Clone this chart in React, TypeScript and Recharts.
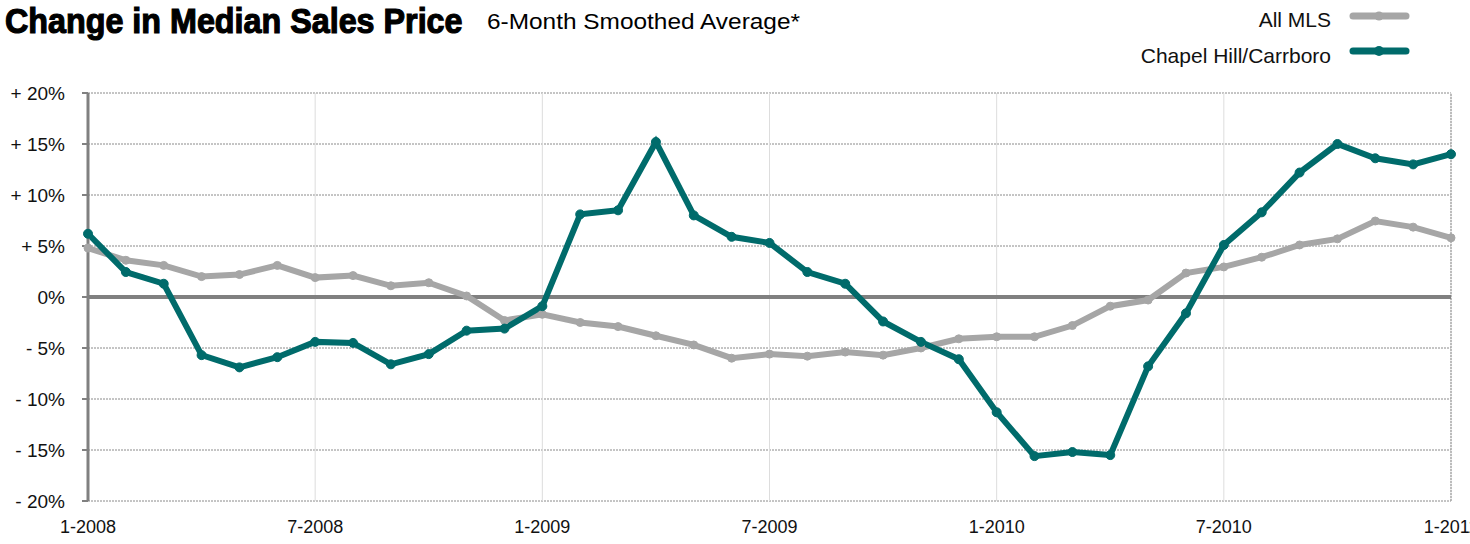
import React from 'react';
import {
  LineChart,
  Line,
  XAxis,
  YAxis,
  CartesianGrid,
  ReferenceLine,
} from 'recharts';

const months = [
  '1-2008', '2-2008', '3-2008', '4-2008', '5-2008', '6-2008', '7-2008', '8-2008', '9-2008', '10-2008', '11-2008', '12-2008',
  '1-2009', '2-2009', '3-2009', '4-2009', '5-2009', '6-2009', '7-2009', '8-2009', '9-2009', '10-2009', '11-2009', '12-2009',
  '1-2010', '2-2010', '3-2010', '4-2010', '5-2010', '6-2010', '7-2010', '8-2010', '9-2010', '10-2010', '11-2010', '12-2010',
  '1-2011',
];

const allMls = [
  4.8, 3.6, 3.1, 2.0, 2.2, 3.1, 1.9, 2.1, 1.1, 1.4, 0.1, -2.3,
  -1.7, -2.5, -2.9, -3.8, -4.7, -6.0, -5.6, -5.8, -5.4, -5.7, -5.0, -4.1,
  -3.9, -3.9, -2.8, -0.9, -0.3, 2.35, 2.95, 3.9, 5.1, 5.7, 7.45, 6.85,
  5.8,
];

const chapelHill = [
  6.2, 2.45, 1.3, -5.7, -6.9, -5.9, -4.4, -4.5, -6.6, -5.6, -3.3, -3.1,
  -0.9, 8.1, 8.5, 15.2, 8.0, 5.9, 5.3, 2.45, 1.3, -2.4, -4.4, -6.1,
  -11.3, -15.6, -15.2, -15.5, -6.8, -1.6, 5.1, 8.3, 12.2, 15.0, 13.6, 13.0,
  14.0,
];

const xTicks = ['1-2008', '7-2008', '1-2009', '7-2009', '1-2010', '7-2010', '1-2011'];
const yTicks = [20, 15, 10, 5, 0, -5, -10, -15, -20];

const TEAL = '#006b6b';
const GRAY = '#a6a6a6';
const AXIS = '#808080';
const FONT = '"Liberation Sans", Arial, Helvetica, sans-serif';

const data = months.map((m, i) => ({ month: m, mls: allMls[i], chapel: chapelHill[i] }));

const fmtY = (v: number) => (v > 0 ? `+ ${v}%` : v < 0 ? `- ${-v}%` : '0%');

// title is a tall condensed heavy face; fake it with a vertical stretch
const Header = () => (
  <svg width={1470} height={80} style={{ position: 'absolute', left: 0, top: 0 }}>
    <text
      transform="translate(5,33) scale(1,1.1)"
      fontFamily={FONT}
      fontWeight={700}
      fontSize={32.3}
      stroke="#000"
      strokeWidth={1.1}
    >
      Change in Median Sales Price
    </text>
    <text x={487} y={29} fontFamily={FONT} fontSize={22} textLength={313} lengthAdjust="spacingAndGlyphs">
      6-Month Smoothed Average*
    </text>

    <text x={1331} y={27} textAnchor="end" fontFamily={FONT} fontSize={21} fill="#111">
      All MLS
    </text>
    <line x1={1353} x2={1406} y1={16} y2={16} stroke={GRAY} strokeWidth={7} strokeLinecap="round" />
    <circle cx={1379} cy={16} r={4.5} fill={GRAY} />

    <text x={1331} y={63} textAnchor="end" fontFamily={FONT} fontSize={21} fill="#111">
      Chapel Hill/Carrboro
    </text>
    <line x1={1353} x2={1406} y1={51} y2={51} stroke={TEAL} strokeWidth={7} strokeLinecap="round" />
    <circle cx={1379} cy={51} r={5} fill={TEAL} />
  </svg>
);

export default function App() {
  return (
    <div style={{ position: 'absolute', left: 0, top: 0, width: 1470, height: 544, background: '#fff' }}>
      <LineChart
        width={1470}
        height={544}
        data={data}
        margin={{ top: 93, right: 19, bottom: 0, left: 0 }}
      >
        <CartesianGrid vertical={false} stroke="#8a8a8a" strokeDasharray="2 1" />
        <CartesianGrid horizontal={false} stroke="#dddddd" />
        <XAxis
          dataKey="month"
          ticks={xTicks}
          height={43}
          axisLine={false}
          tickLine={false}
          tickSize={0}
          tickMargin={19}
          tick={{ fill: '#111', fontSize: 18, fontFamily: FONT }}
          interval={0}
        />
        <YAxis
          type="number"
          domain={[-20, 20]}
          ticks={yTicks}
          width={88}
          tickFormatter={fmtY}
          axisLine={{ stroke: AXIS, strokeWidth: 3 }}
          tickLine={{ stroke: AXIS, strokeWidth: 2 }}
          tickSize={6}
          tickMargin={17}
          tick={{ fill: '#111', fontSize: 19, fontFamily: FONT }}
          interval={0}
        />
        <ReferenceLine x="1-2011" stroke="#8a8a8a" strokeDasharray="2 1" />
        <ReferenceLine y={0} stroke={AXIS} strokeWidth={4} />
        <Line
          dataKey="mls"
          stroke={GRAY}
          strokeWidth={6}
          dot={{ r: 4, fill: GRAY, stroke: GRAY, strokeWidth: 1 }}
          isAnimationActive={false}
        />
        <Line
          dataKey="chapel"
          stroke={TEAL}
          strokeWidth={6}
          dot={{ r: 4.5, fill: TEAL, stroke: TEAL, strokeWidth: 1 }}
          isAnimationActive={false}
        />
      </LineChart>
      <Header />
    </div>
  );
}
